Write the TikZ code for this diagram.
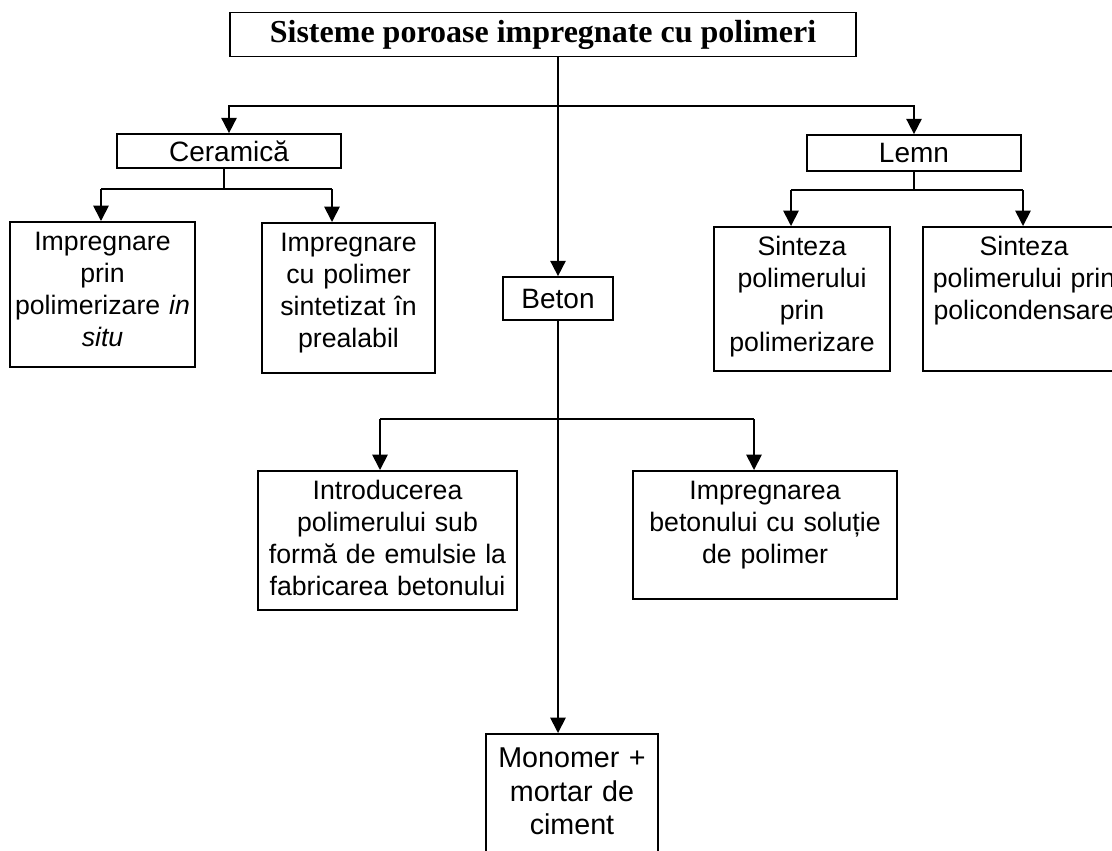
\documentclass[tikz,border=0pt]{standalone}
\usepackage{fontspec}
\setmainfont{Liberation Serif}
\setsansfont{Liberation Sans}
\usetikzlibrary{arrows.meta}

\begin{document}
\begin{tikzpicture}[x=0.75pt,y=-0.75pt,line width=1.3pt,
  font=\sffamily\fontsize{20}{24}\selectfont,
  cat/.style={draw,inner sep=0pt,font=\sffamily\fontsize{21}{24}\selectfont},
  leaf/.style={draw,anchor=north,align=center,inner sep=0pt,text height=21.5pt},
  arr/.style={-{Triangle[width=11.5pt,length=11.5pt]}}]
  \useasboundingbox (0,0) rectangle (1112,850);
  \node[draw,inner sep=0pt,minimum width=469.5pt,minimum height=33pt,font=\rmfamily\bfseries\fontsize{24}{28}\selectfont] (title) at (543,34.5) {Sisteme poroase impregnate cu polimeri};
  \node[cat,minimum width=168pt,minimum height=25.5pt] (cer) at (229,151) {Ceramică};
  \node[cat,minimum width=160pt,minimum height=27pt] (lemn) at (914,153) {Lemn};
  \node[cat,minimum width=82.5pt,minimum height=32.25pt] (beton) at (558,298.5) {Beton};
  \node[leaf,text width=138.75pt,text depth=87.25pt] (imp1) at (102.5,221) {Impregnare\\prin\\polimerizare \textit{in}\\\textit{situ}};
  \node[leaf,text width=129.75pt,text depth=91pt] (imp2) at (348.5,222) {Impregnare\\cu polimer\\sintetizat în\\prealabil};
  \node[leaf,text width=132pt,text depth=86.5pt] (sin1) at (802,226) {Sinteza\\polimerului\\prin\\polimerizare};
  \node[leaf,text width=151.5pt,text depth=86.5pt] (sin2) at (1024,226) {Sinteza\\polimerului prin\\policondensare};
  \node[leaf,text width=194.25pt,text depth=82.75pt] (intro) at (387.5,470) {Introducerea\\polimerului sub\\formă de emulsie la\\fabricarea betonului};
  \node[leaf,text width=198pt,text depth=74.5pt] (impb) at (765,470) {Impregnarea\\betonului cu soluție\\de polimer};
  \node[leaf,text width=129pt,text height=25.5pt,text depth=78pt,font=\sffamily\fontsize{21.5}{25}\selectfont] (mono) at (572,733) {Monomer +\\mortar de\\ciment};
  \coordinate (jt) at (558,106);
  \coordinate (cl) at (101,189);
  \coordinate (cr) at (332,189);
  \coordinate (ll) at (791,190);
  \coordinate (lr) at (1023,190);
  \coordinate (bl) at (380,419);
  \coordinate (br) at (754,419);
  \draw[arr] (title.south -| beton.north) -- (beton.north);
  \draw[arr] (jt) -| (cer.north);
  \draw[arr] (jt) -| (lemn.north);
  \draw ([xshift=-4pt]cer.south) -- ([xshift=-4pt]cer.south |- cl);
  \draw (cl) -- (cr);
  \draw[arr] (cl) -- (cl |- imp1.north);
  \draw[arr] (cr) -- (cr |- imp2.north);
  \draw (lemn.south) -- (lemn.south |- ll);
  \draw (ll) -- (lr);
  \draw[arr] (ll) -- (ll |- sin1.north);
  \draw[arr] (lr) -- (lr |- sin2.north);
  \draw[arr] (beton.south) -- (beton.south |- mono.north);
  \draw (bl) -- (br);
  \draw[arr] (bl) -- (bl |- intro.north);
  \draw[arr] (br) -- (br |- impb.north);
\end{tikzpicture}
\end{document}
